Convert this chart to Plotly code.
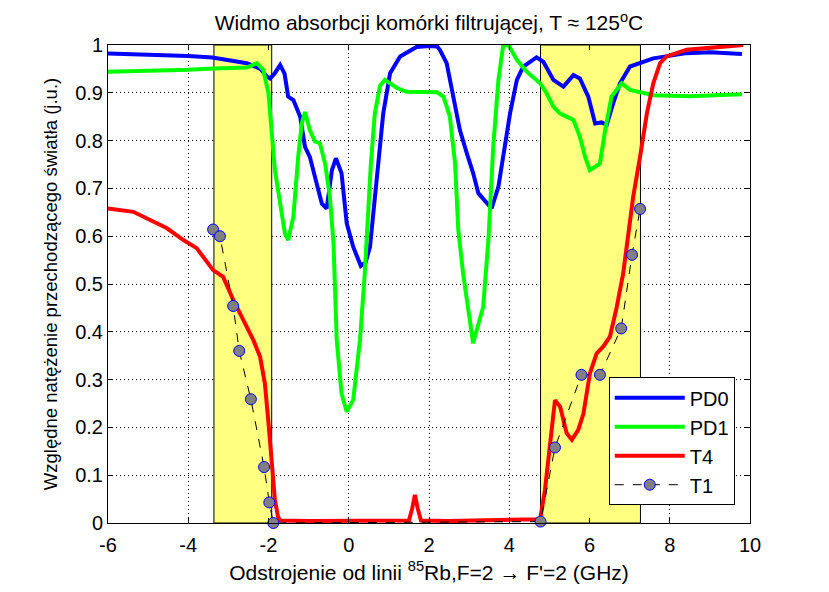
import plotly.graph_objects as go

# PD0 (blue)
pd0_x = [-6.0, -5.0, -4.0, -3.4, -2.9, -2.54, -2.2, -2.04, -1.96, -1.85, -1.71, -1.6, -1.51, -1.38, -1.21, -1.09, -0.97,
         -0.80, -0.67, -0.55, -0.42, -0.32, -0.18, -0.05, 0.11, 0.3, 0.42, 0.53, 0.70, 0.86, 1.03, 1.28, 1.69, 2.0, 2.2,
         2.27, 2.44, 2.61, 2.77, 2.94, 3.10, 3.23, 3.44, 3.56, 3.73, 3.85, 4.02, 4.19, 4.35, 4.68, 4.85, 5.10, 5.35, 5.60,
         5.76, 5.97, 6.14, 6.3, 6.43, 6.59, 6.76, 7.01, 7.59, 8.42, 9.0, 9.8]
pd0_y = [0.982, 0.980, 0.977, 0.974, 0.968, 0.962, 0.950, 0.934, 0.930, 0.940, 0.958, 0.940, 0.892, 0.885, 0.850, 0.787,
         0.766, 0.711, 0.668, 0.658, 0.738, 0.763, 0.732, 0.627, 0.578, 0.538, 0.545, 0.578, 0.718, 0.857, 0.941, 0.976,
         0.996, 0.998, 0.997, 0.990, 0.962, 0.892, 0.822, 0.774, 0.732, 0.690, 0.669, 0.658, 0.704, 0.766, 0.857, 0.927,
         0.955, 0.974, 0.965, 0.927, 0.913, 0.937, 0.930, 0.892, 0.836, 0.838, 0.833, 0.878, 0.920, 0.955, 0.972, 0.983,
         0.985, 0.981]

# PD1 (green)
pd1_x = [-6.0, -5.0, -4.0, -3.38, -2.54, -2.29, -2.13, -2.0, -1.92, -1.84, -1.71, -1.59, -1.51, -1.38, -1.26, -1.17,
         -1.09, -0.97, -0.84, -0.72, -0.59, -0.47, -0.38, -0.30, -0.18, -0.05, 0.11, 0.28, 0.40, 0.45, 0.55, 0.65, 0.78,
         0.9, 1.2, 1.44, 2.0, 2.2, 2.36, 2.52, 2.65, 2.73, 2.85, 3.10, 3.35, 3.48, 3.60, 3.73, 3.85, 3.98, 4.19, 4.44,
         4.77, 4.93, 5.10, 5.26, 5.60, 5.76, 5.89, 6.01, 6.26, 6.39, 6.55, 6.80, 7.01, 7.59, 8.5, 9.8]
pd1_y = [0.944, 0.945, 0.948, 0.951, 0.953, 0.962, 0.948, 0.899, 0.822, 0.738, 0.669, 0.606, 0.592, 0.641, 0.766, 0.836,
         0.860, 0.822, 0.798, 0.795, 0.752, 0.683, 0.585, 0.383, 0.271, 0.233, 0.257, 0.383, 0.523, 0.600, 0.750, 0.857,
         0.915, 0.927, 0.910, 0.902, 0.902, 0.901, 0.892, 0.850, 0.752, 0.613, 0.522, 0.376, 0.452, 0.592, 0.787, 0.927,
         1.0, 1.0, 0.969, 0.944, 0.920, 0.899, 0.871, 0.857, 0.843, 0.808, 0.766, 0.738, 0.752, 0.822, 0.892, 0.920,
         0.906, 0.895, 0.893, 0.897]

# T4 (red)
t4_x = [-6.0, -5.37, -4.95, -4.54, -4.12, -3.79, -3.38, -3.13, -2.88, -2.63, -2.38, -2.21, -2.09, -2.0, -1.92, -1.84,
        -1.76, -1.7, -1.0, 0.0, 1.0, 1.5, 1.58, 1.65, 1.72, 1.8, 2.5, 3.5, 4.5, 4.77, 4.89, 5.02, 5.14, 5.27, 5.43,
        5.56, 5.72, 5.85, 6.01, 6.18, 6.34, 6.51, 6.68, 6.84, 6.93, 7.09, 7.26, 7.43, 7.59, 7.76, 7.92, 8.42, 9.25, 9.83]
t4_y = [0.658, 0.651, 0.634, 0.617, 0.592, 0.575, 0.529, 0.515, 0.467, 0.425, 0.383, 0.348, 0.292, 0.209, 0.139, 0.048,
        0.012, 0.005, 0.004, 0.005, 0.004, 0.005, 0.030, 0.059, 0.030, 0.005, 0.004, 0.005, 0.006, 0.008, 0.069, 0.174,
        0.257, 0.243, 0.188, 0.174, 0.195, 0.229, 0.313, 0.355, 0.369, 0.390, 0.452, 0.522, 0.578, 0.683, 0.766, 0.857,
        0.920, 0.962, 0.976, 0.990, 0.996, 1.0]

# T1 (measured points)
t1_x = [-3.38, -3.21, -2.88, -2.73, -2.44, -2.11, -1.98, -1.88, 4.78, 5.14, 5.80, 6.26, 6.79, 7.06, 7.26]
t1_y = [0.614, 0.600, 0.454, 0.360, 0.259, 0.117, 0.043, 0.0, 0.003, 0.158, 0.310, 0.310, 0.407, 0.561, 0.657]

# Highlighted bands (GHz)
bands = [(-3.36, -1.92), (4.78, 7.27)]

x_ticks = [-6, -4, -2, 0, 2, 4, 6, 8, 10]
y_ticks = [0, 0.1, 0.2, 0.3, 0.4, 0.5, 0.6, 0.7, 0.8, 0.9, 1]
y_tick_text = ["0", "0.1", "0.2", "0.3", "0.4", "0.5", "0.6", "0.7", "0.8", "0.9", "1"]

FONT = "Liberation Sans, Arial, sans-serif"

fig = go.Figure()
fig.add_trace(go.Scatter(x=pd0_x, y=pd0_y, mode="lines", name="PD0", line=dict(color="#0000ff", width=4)))
fig.add_trace(go.Scatter(x=pd1_x, y=pd1_y, mode="lines", name="PD1", line=dict(color="#00ff00", width=4)))
fig.add_trace(go.Scatter(x=t4_x, y=t4_y, mode="lines", name="T4", line=dict(color="#ff0000", width=4)))
fig.add_trace(go.Scatter(x=t1_x, y=t1_y, mode="lines+markers", name="T1", cliponaxis=False,
                         line=dict(color="black", width=1, dash="dash"),
                         marker=dict(color="#808080", size=11, line=dict(color="#0000ff", width=1))))

for x0, x1 in bands:
    fig.add_shape(type="rect", xref="x", yref="y", x0=x0, x1=x1, y0=0, y1=1,
                  fillcolor="#ffff80", line=dict(color="black", width=1), layer="between")

axis_common = dict(showline=True, linecolor="black", linewidth=1, mirror="allticks", ticks="inside",
                   ticklen=5, tickcolor="black", showgrid=True, gridcolor="black", griddash="1px,3px",
                   gridwidth=1, zeroline=False, automargin=False,
                   tickfont=dict(size=20, color="black", family=FONT))

fig.update_xaxes(range=[-6, 10], tickvals=x_ticks, ticktext=[str(v) for v in x_ticks], ticklabelstandoff=4,
                 title=dict(text="Odstrojenie od linii <sup>85</sup>Rb,F=2 \u2192 F'=2 (GHz)",
                            font=dict(size=21, color="black", family=FONT), standoff=10),
                 **axis_common)
fig.update_yaxes(range=[0, 1], tickvals=y_ticks, ticktext=y_tick_text,
                 title=dict(text="Wzgl\u0119dne nat\u0119\u017cenie przechodz\u0105cego \u015bwiat\u0142a (j.u.)",
                            font=dict(size=18.5, color="black", family=FONT), standoff=12),
                 **axis_common)

# page body has an 8px offset; the figure is sized so the plot area lands on the reference position
fig.update_layout(
    width=821, height=584,
    margin=dict(l=100, r=79, t=37, b=69),
    paper_bgcolor="white", plot_bgcolor="white",
    title=dict(text="Widmo absorbcji kom\u00f3rki filtruj\u0105cej, T \u2248 125<sup>o</sup>C",
               x=(100 + 321) / 821, xanchor="center", y=1 - 15 / 584, yanchor="middle",
               font=dict(size=21, color="black", family=FONT)),
    showlegend=True,
    legend=dict(x=0.78, y=0.305, xanchor="left", yanchor="top", bgcolor="white",
                bordercolor="black", borderwidth=1, font=dict(size=20, color="black", family=FONT),
                itemwidth=70),
)

fig.write_html("out.html")
